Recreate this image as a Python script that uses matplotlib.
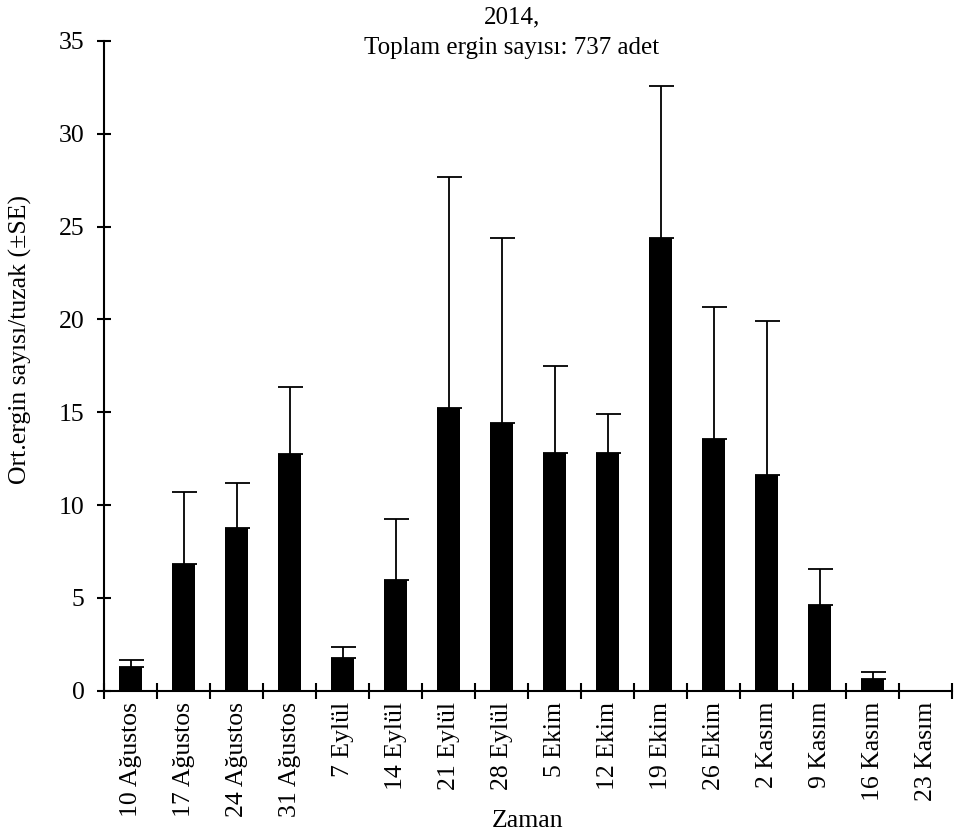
import matplotlib.pyplot as plt
import numpy as np

plt.rcParams['font.family'] = ['Liberation Serif', 'DejaVu Serif']

dates = ["10 Ağustos", "17 Ağustos", "24 Ağustos", "31 Ağustos",
         "7 Eylül", "14 Eylül", "21 Eylül", "28 Eylül",
         "5 Ekim", "12 Ekim", "19 Ekim", "26 Ekim",
         "2 Kasım", "9 Kasım", "16 Kasım", "23 Kasım"]
means = [1.26, 6.80, 8.76, 12.76, 1.76, 5.97, 15.23, 14.41,
         12.78, 12.78, 24.38, 13.58, 11.63, 4.63, 0.63, 0.0]
upper = [1.65, 10.68, 11.2, 16.35, 2.35, 9.26, 27.65, 24.36,
         17.48, 14.91, 32.6, 20.65, 19.94, 6.57, 1.0, 0.0]
se = [u - m for u, m in zip(upper, means)]

fig = plt.figure(figsize=(9.55, 8.36), dpi=100)
ax = fig.add_axes([0.1089, 0.1738, 0.8880, 0.7772])

x = np.arange(len(dates))
ax.bar(x, means, width=0.45, color='black')
err = np.array(se)
mask = err > 0
ax.errorbar(x[mask], np.array(means)[mask], yerr=[np.zeros(mask.sum()), err[mask]],
            fmt='none', ecolor='black', elinewidth=1.3, capsize=9, capthick=1.3)

ax.set_xlim(-0.5, len(dates) - 0.5)
ax.set_ylim(0, 35)
ax.set_yticks(np.arange(0, 36, 5))

# boundaries get the tick marks, centers get the labels
ax.set_xticks(np.arange(-0.5, len(dates), 1.0))
ax.set_xticklabels([])
ax.set_xticks(x, minor=True)
ax.set_xticklabels(dates, minor=True, rotation=90, va='top', ha='center')
ax.tick_params(axis='x', which='minor', length=0, pad=8, labelsize=18.5)
ax.tick_params(axis='x', which='major', direction='inout', length=11, width=1.5)
ax.tick_params(axis='y', direction='inout', length=10, width=1.5, pad=9, labelsize=18.5)

for s in ['top', 'right']:
    ax.spines[s].set_visible(False)
for s in ['left', 'bottom']:
    ax.spines[s].set_linewidth(1.5)

ax.set_ylabel("Ort.ergin sayısı/tuzak (±SE)", fontsize=18.5)
ax.yaxis.set_label_coords(-0.085, 0.54)
ax.set_xlabel("Zaman", fontsize=18.5)
ax.xaxis.set_label_coords(0.5, -0.1836)

fig.text(512 / 955, 0.961, "2014,\nToplam ergin sayısı: 737 adet",
         ha='center', va='center', fontsize=18, linespacing=1.5)

fig.savefig("out.png", dpi=100)
